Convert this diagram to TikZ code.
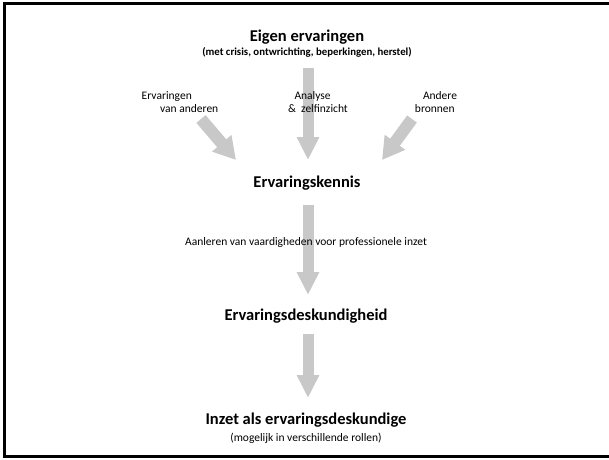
\documentclass[tikz,border=0pt]{standalone}
\usepackage{fontspec}
\setmainfont{Carlito}
\usetikzlibrary{arrows.meta}
\definecolor{arrowgray}{RGB}{200,200,200}
\tikzset{
  x=1pt, y=-1pt,
  big/.style={font=\fontsize{16.5}{18}\selectfont\bfseries, inner sep=0pt},
  sub/.style={font=\fontsize{10.8}{12}\selectfont\bfseries, inner sep=0pt},
  lbl/.style={font=\fontsize{11.5}{13}\selectfont, inner sep=0pt, align=left},
  fat/.style={arrowgray, line width=11pt, -{Triangle[width=21pt,length=23pt]}},
  fatside/.style={arrowgray, line width=12pt, -{Triangle[width=24pt,length=22pt]}},
}
\begin{document}
\begin{tikzpicture}
\useasboundingbox (0,0) rectangle (609,459);
\draw[line width=3pt] (609,3) -- (4.5,3) -- (4.5,456) -- (609,456);

\node[big] (eigen) at (307,37) {Eigen ervaringen};
\node[sub] (eigensub) at (307,52) {(met crisis, ontwrichting, beperkingen, herstel)};

\coordinate (c1a) at (308,68);
\coordinate (c1b) at (308,160);
\coordinate (l1a) at (201,119);
\coordinate (l1b) at (236,160);
\coordinate (r1a) at (412,119);
\coordinate (r1b) at (382,160);
\draw[fat] (c1a) -- (c1b);
\draw[fatside] (l1a) -- (l1b);
\draw[fatside] (r1a) -- (r1b);

\node[lbl] (ervand) at (180,102) {Ervaringen\\\hspace*{1.6em}van anderen};
\node[lbl] (analyse) at (318,102) {\hspace*{0.55em}Analyse\\\&\ \ zelfinzicht};
\node[lbl] (andere) at (436,102) {\hspace*{0.7em}Andere\\bronnen};

\node[big] (kennis) at (307,183) {Ervaringskennis};

\coordinate (c2a) at (308,205);
\coordinate (c2b) at (308,295);
\draw[fat] (c2a) -- (c2b);
\node[lbl] (aanleren) at (306,242) {Aanleren van vaardigheden voor professionele inzet};

\node[big] (desk) at (306,316) {Ervaringsdeskundigheid};

\coordinate (c3a) at (308,334);
\coordinate (c3b) at (308,398);
\draw[fat] (c3a) -- (c3b);

\node[big] (inzet) at (306,420) {Inzet als ervaringsdeskundige};
\node[lbl] (rollen) at (306,438) {(mogelijk in verschillende rollen)};
\end{tikzpicture}
\end{document}
